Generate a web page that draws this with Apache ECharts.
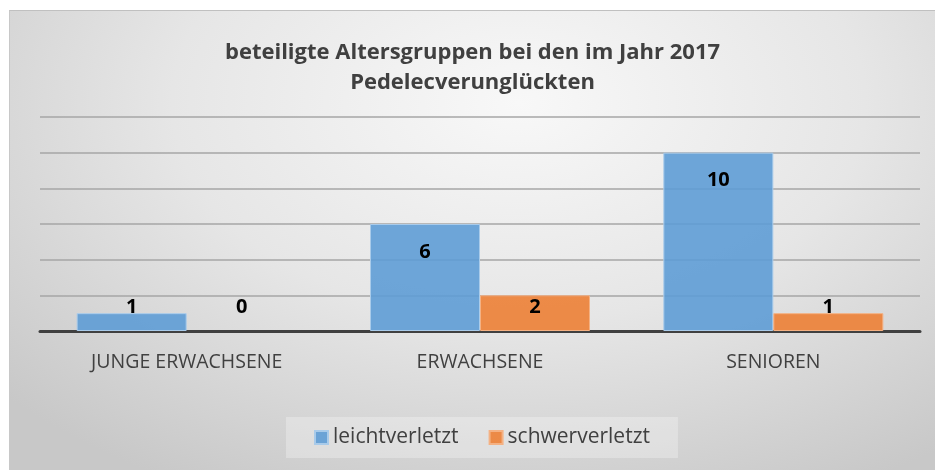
<!DOCTYPE html>
<html>
<head>
<meta charset="utf-8">
<script src="https://cdn.jsdelivr.net/npm/echarts@6/dist/echarts.min.js"></script>
<style>
  html, body { margin: 0; padding: 0; background: #fff; }
  #wrap {
    position: absolute; left: 9px; top: 10px; width: 926px; height: 460px;
    border-top: 1px solid #c0c0c0; border-left: 1px solid #c8c8c8;
    box-sizing: border-box;
    background: radial-gradient(ellipse 75% 95% at 55% 20%, #f8f8f8 0%, #e6e6e6 50%, #c8c8c8 100%);
  }
  #chart { width: 100%; height: 100%; }
</style>
</head>
<body>
<div id="wrap"><div id="chart"></div></div>
<script>
const categories = ['JUNGE ERWACHSENE', 'ERWACHSENE', 'SENIOREN']
const leichtverletzt = [1, 6, 10]
const schwerverletzt = [0, 2, 1]
const yTicks = [0, 2, 4, 6, 8, 10, 12]

const font = '"Open Sans", Lato, sans-serif'

// Excel-like "inside end": small bars get their label lifted near the axis
const toItems = (values) => values.map(v => ({
  value: v,
  itemStyle: v === 0 ? { borderWidth: 0 } : undefined,
  label: v >= 4
    ? { position: 'insideTop', distance: 18 }
    : { position: 'insideBottom', distance: 14 }
}))

const chart = echarts.init(document.getElementById('chart'))

chart.setOption({
  backgroundColor: 'transparent',
  title: {
    text: 'beteiligte Altersgruppen bei den im Jahr 2017\nPedelecverunglückten',
    left: 'center',
    top: 22,
    textStyle: {
      fontFamily: font,
      fontSize: 22,
      fontWeight: 'bold',
      color: '#404040',
      lineHeight: 30
    }
  },
  legend: {
    data: ['leichtverletzt', 'schwerverletzt'],
    left: 276,
    top: 406,
    padding: [10, 28],
    itemGap: 30,
    itemWidth: 13,
    itemHeight: 13,
    icon: 'rect',
    backgroundColor: 'rgba(255,255,255,0.28)',
    textStyle: { fontFamily: font, fontSize: 21, color: '#404040' }
  },
  grid: {
    left: 30,
    right: 15,
    top: 106,
    bottom: 139
  },
  xAxis: {
    type: 'category',
    data: categories,
    axisTick: { show: false },
    axisLine: { lineStyle: { color: '#404040', width: 3 } },
    axisLabel: {
      fontFamily: font,
      fontSize: 19.5,
      color: '#404040',
      margin: 21
    }
  },
  yAxis: {
    type: 'value',
    min: yTicks[0],
    max: yTicks[yTicks.length - 1],
    interval: 2,
    axisLabel: { show: false },
    axisLine: { show: false },
    axisTick: { show: false },
    splitLine: { lineStyle: { color: '#a6a6a6', width: 1.5 } }
  },
  series: [
    {
      name: 'leichtverletzt',
      type: 'bar',
      data: toItems(leichtverletzt),
      barGap: '0%',
      barCategoryGap: '25%',
      itemStyle: { color: 'rgba(91,155,213,0.88)', borderColor: '#a9cbea', borderWidth: 1 },
      label: {
        show: true,
        fontFamily: font,
        fontSize: 20,
        fontWeight: 'bold',
        color: '#000'
      }
    },
    {
      name: 'schwerverletzt',
      type: 'bar',
      data: toItems(schwerverletzt),
      itemStyle: { color: 'rgba(237,125,49,0.88)', borderColor: '#f4b183', borderWidth: 1 },
      label: {
        show: true,
        fontFamily: font,
        fontSize: 20,
        fontWeight: 'bold',
        color: '#000'
      }
    }
  ]
})
</script>
</body>
</html>
